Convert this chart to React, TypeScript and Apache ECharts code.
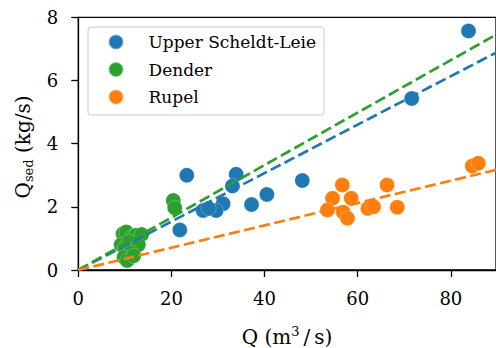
import React, { useEffect, useRef } from "react";
import * as echarts from "echarts";

const upperScheldtLeie: number[][] = [
  [83.8, 7.57], [71.6, 5.43], [48.1, 2.83], [40.5, 2.39], [37.2, 2.07],
  [33.9, 3.03], [33.1, 2.66], [31.1, 2.1], [29.6, 1.88], [26.8, 1.88],
  [28.0, 1.95], [23.3, 3.0], [21.8, 1.27],
];
const dender: number[][] = [
  [9.6, 1.15], [10.3, 1.2], [11.6, 1.05], [12.4, 1.1], [13.6, 1.12],
  [9.2, 0.8], [10.0, 0.7], [10.9, 0.9], [12.9, 0.8], [11.3, 0.55],
  [9.8, 0.4], [10.5, 0.3], [11.9, 0.45], [20.4, 2.2], [20.7, 1.97],
];
const rupel: number[][] = [
  [56.7, 2.69], [66.3, 2.69], [54.6, 2.27], [58.6, 2.27], [53.5, 1.9],
  [56.9, 1.83], [57.8, 1.64], [62.2, 1.95], [63.4, 2.0], [68.5, 1.99],
  [84.6, 3.29], [85.9, 3.38],
];
const fitUpper: number[][] = [[0, 0], [89.7, 6.88]];
const fitDender: number[][] = [[0, 0], [89.7, 7.45]];
const fitRupel: number[][] = [[0, 0], [89.7, 3.17]];
const seriesNames = ["Upper Scheldt-Leie", "Dender", "Rupel"];
const colors = ["#1f77b4", "#2ca02c", "#ff7f0e"];
const xTicks = { min: 0, max: 89.7, interval: 20 };
const yTicks = { min: 0, max: 8, interval: 2 };

const FONT = "DejaVu Serif";

export default function App() {
  const ref = useRef<HTMLDivElement>(null);
  useEffect(() => {
    if (!ref.current) return;
    const chart = echarts.init(ref.current, undefined, { renderer: "svg" });
    const scatter = (name: string, data: number[][], color: string) => ({
      type: "scatter",
      name,
      data,
      symbol: "circle",
      symbolSize: 15,
      itemStyle: { color, opacity: 1, borderColor: "rgba(255,255,255,0.5)", borderWidth: 0.5 },
      z: 2,
    });
    const fit = (data: number[][], color: string) => ({
      type: "line",
      data,
      symbol: "none",
      showSymbol: false,
      lineStyle: { color, width: 2.7, type: [11, 4.5] },
      z: 3,
      silent: true,
    });
    chart.setOption({
      animation: false,
      grid: {
        left: 78.3,
        top: 17.3,
        right: -1,
        bottom: 78,
        show: true,
        borderColor: "#000",
        borderWidth: 1.3,
        backgroundColor: "transparent",
      },
      xAxis: {
        type: "value",
        min: xTicks.min,
        max: xTicks.max,
        interval: xTicks.interval,
        splitLine: { show: false },
        axisLine: { show: true, lineStyle: { color: "#000", width: 1.3 } },
        axisTick: { show: true, inside: false, length: 7, lineStyle: { color: "#000", width: 1.3 } },
        axisLabel: {
          color: "#000",
          fontFamily: FONT,
          fontSize: 18,
          margin: 19,
          showMaxLabel: false,
        },
      },
      yAxis: {
        type: "value",
        min: yTicks.min,
        max: yTicks.max,
        interval: yTicks.interval,
        splitLine: { show: false },
        axisLine: { show: true, lineStyle: { color: "#000", width: 1.3 } },
        axisTick: { show: true, inside: false, length: 7, lineStyle: { color: "#000", width: 1.3 } },
        axisLabel: { color: "#000", fontFamily: FONT, fontSize: 18, margin: 20 },
      },
      legend: {
        orient: "vertical",
        left: 107.5,
        top: 33.5,
        padding: 0,
        itemGap: 10.5,
        itemWidth: 15,
        itemHeight: 15,
        icon: "circle",
        data: seriesNames,
        textStyle: { color: "#000", fontFamily: FONT, fontSize: 17, padding: [0, 0, 0, 20] },
      },
      graphic: [
        {
          type: "rect",
          z: 3,
          shape: { x: 88, y: 27, width: 236, height: 88, r: 3 },
          style: { fill: "rgba(255,255,255,0.8)", stroke: "#cccccc", lineWidth: 1 },
        },
        {
          type: "text",
          z: 15,
          x: 287,
          y: 337,
          style: {
            text: "{a|Q (m}{s|3}{a|\u2009/\u2009s)}",
            align: "center",
            verticalAlign: "middle",
            fill: "#000",
            rich: {
              a: { fontFamily: FONT, fontSize: 20, lineHeight: 24, verticalAlign: "middle", fill: "#000" },
              s: { fontFamily: FONT, fontSize: 13, lineHeight: 14, verticalAlign: "top", fill: "#000" },
            },
          },
        },
        {
          type: "text",
          z: 15,
          x: 23,
          y: 147,
          rotation: Math.PI / 2,
          style: {
            text: "{a|Q}{s|sed}{a| (kg/s)}",
            align: "center",
            verticalAlign: "middle",
            fill: "#000",
            rich: {
              a: { fontFamily: FONT, fontSize: 20, lineHeight: 24, verticalAlign: "middle", fill: "#000" },
              s: { fontFamily: FONT, fontSize: 13, lineHeight: 14, verticalAlign: "bottom", fill: "#000" },
            },
          },
        },
      ],
      series: [
        scatter(seriesNames[0], upperScheldtLeie, colors[0]),
        scatter(seriesNames[1], dender, colors[1]),
        scatter(seriesNames[2], rupel, colors[2]),
        fit(fitUpper, colors[0]),
        fit(fitDender, colors[1]),
        fit(fitRupel, colors[2]),
      ],
    });
    return () => chart.dispose();
  }, []);
  return (
    <div
      ref={ref}
      style={{ position: "absolute", left: 0, top: 0, width: 496, height: 348 }}
    />
  );
}
